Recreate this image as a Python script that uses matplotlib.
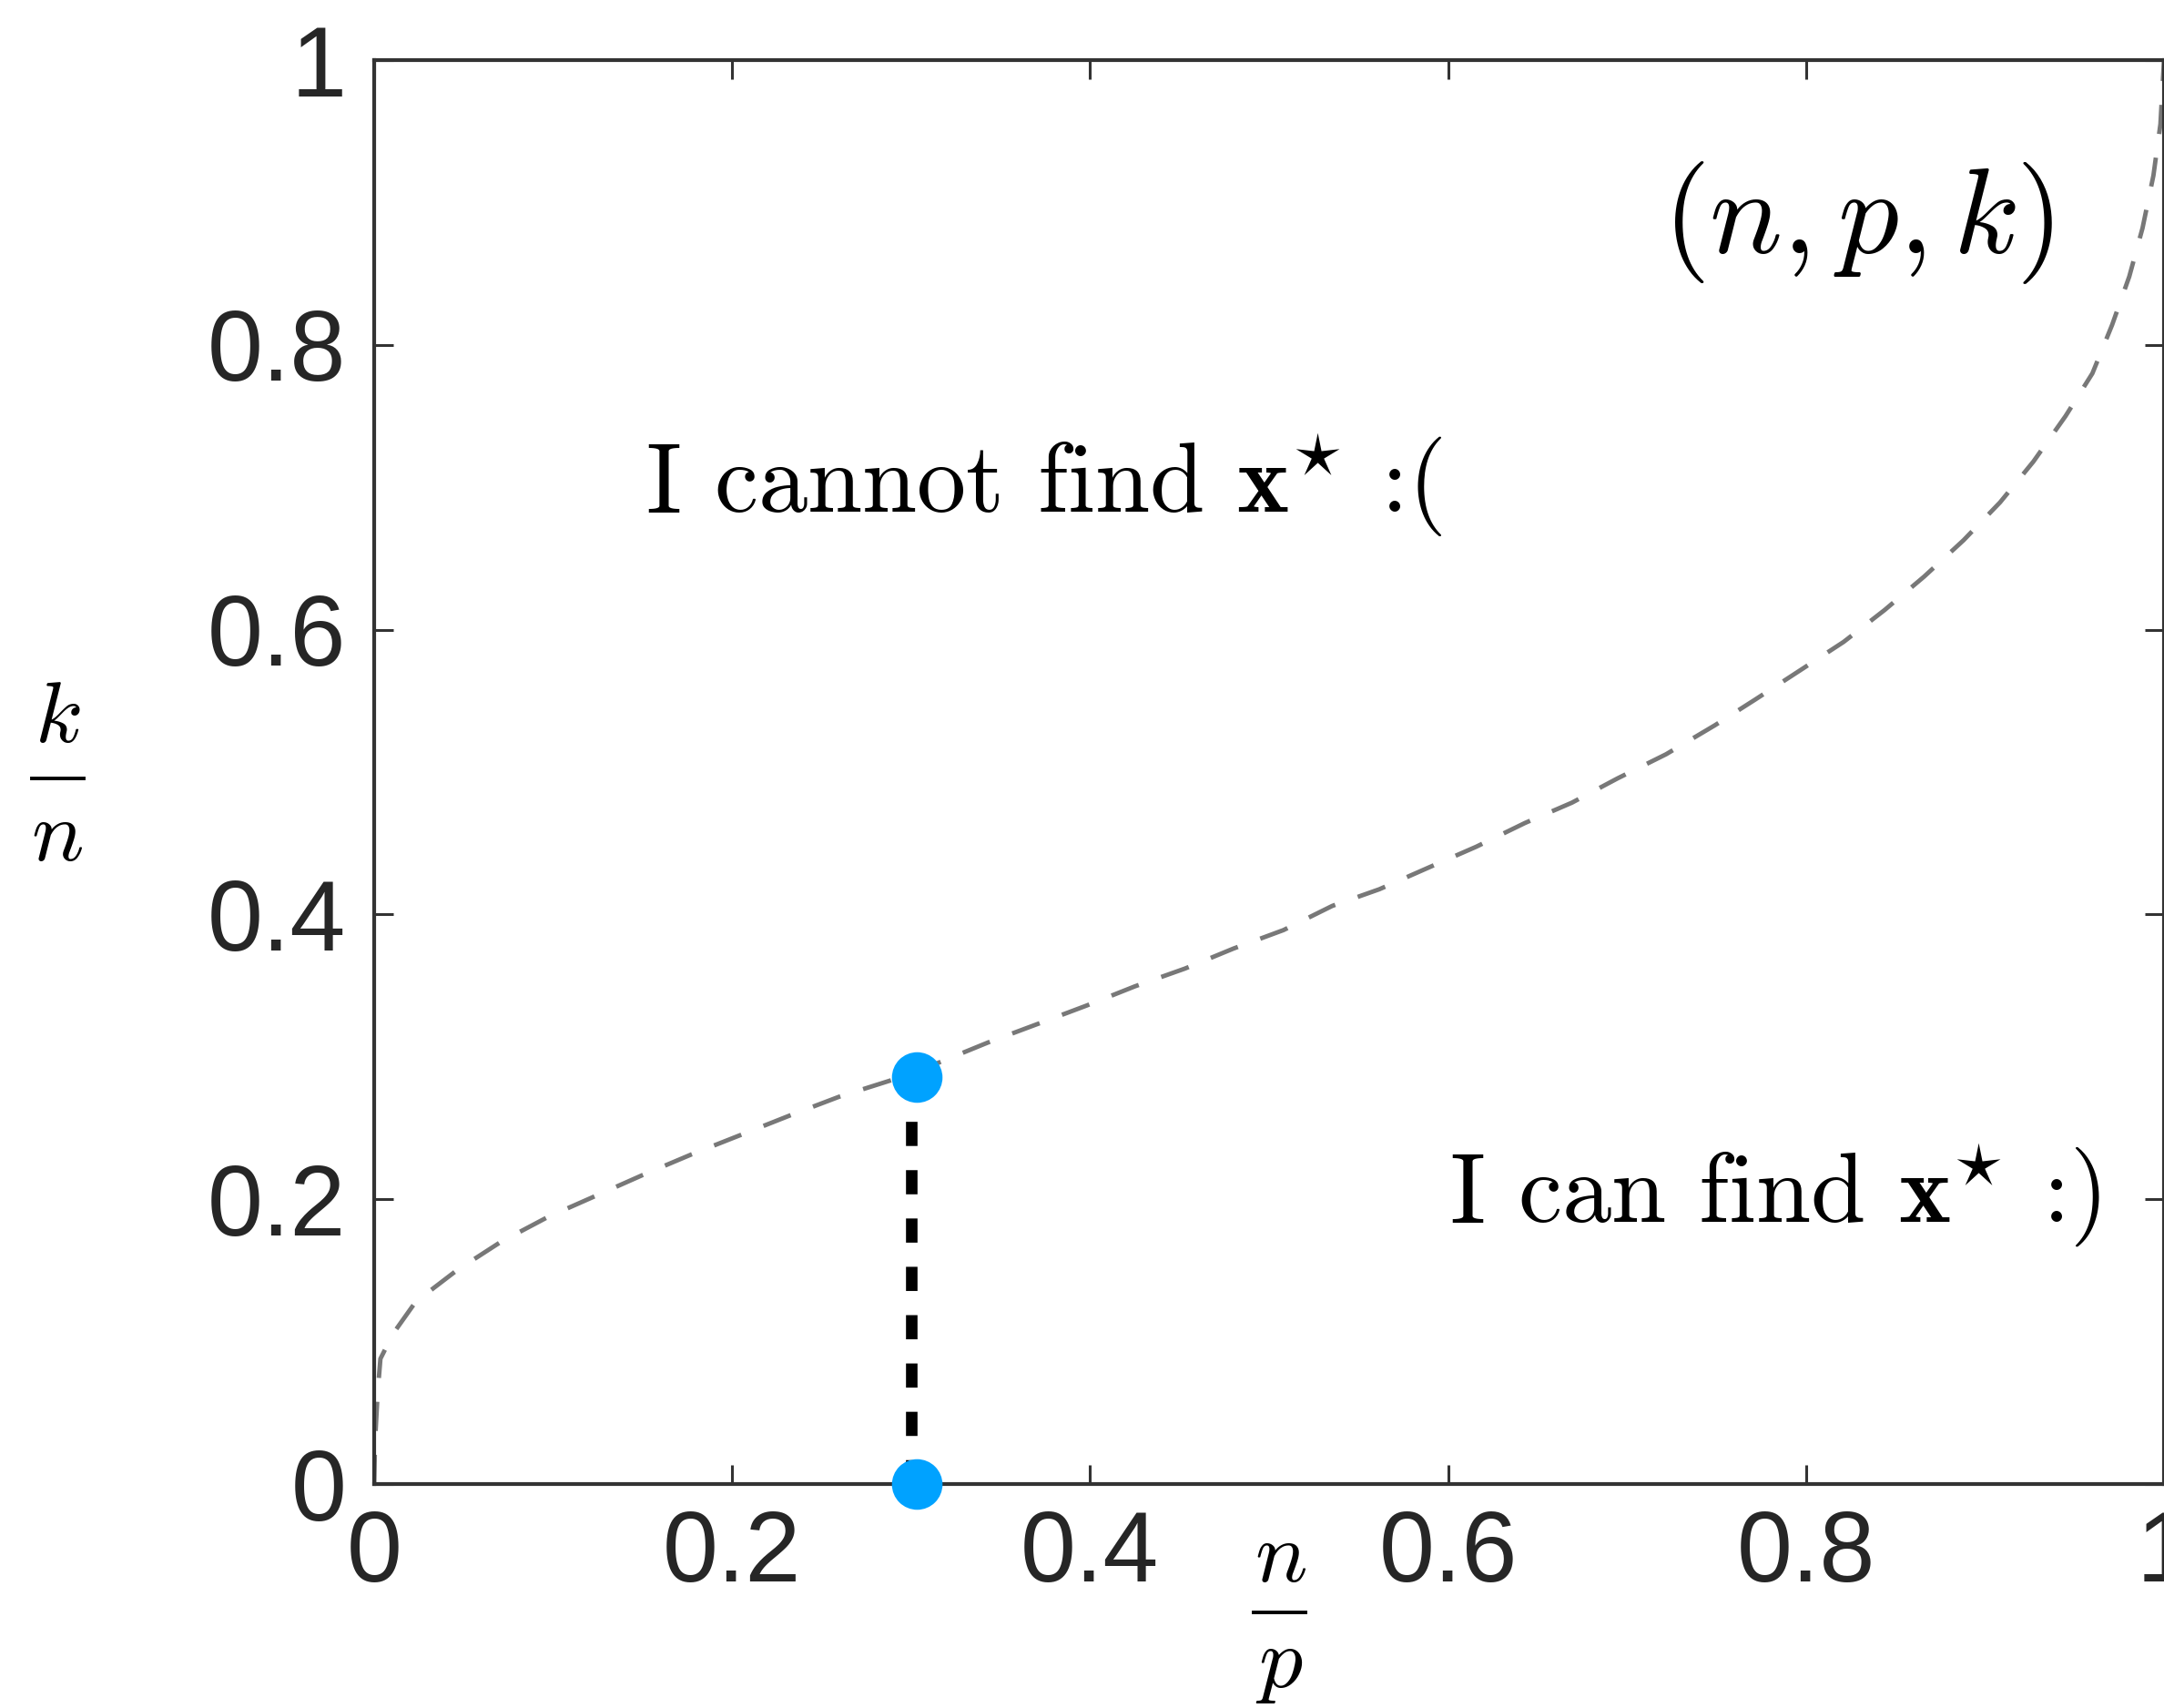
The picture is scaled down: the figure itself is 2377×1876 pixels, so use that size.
import matplotlib
matplotlib.use("Agg")
import matplotlib.pyplot as plt
from matplotlib.lines import Line2D

plt.rcParams['mathtext.fontset'] = 'cm'
plt.rcParams['font.family'] = ['Liberation Sans', 'DejaVu Sans']

# phase transition curve (n/p, k/n)
ratio_np = [0, 0.0005, 0.002, 0.0035, 0.0105, 0.0232, 0.0461, 0.0707, 0.097, 0.124,
            0.150, 0.1775, 0.2055, 0.2326, 0.2598, 0.30, 0.3428, 0.3705, 0.398, 0.425,
            0.453, 0.480, 0.508, 0.5353, 0.5616, 0.5887, 0.6158, 0.6429, 0.6692, 0.6946,
            0.7218, 0.749, 0.7717, 0.7964, 0.821, 0.8439, 0.866, 0.888, 0.9084, 0.927,
            0.945, 0.960, 0.971, 0.9806, 0.988, 0.9941, 0.998, 1.0]
ratio_kn = [0, 0.03, 0.065, 0.088, 0.1055, 0.128, 0.150, 0.170, 0.1875, 0.2025,
            0.217, 0.2316, 0.2455, 0.259, 0.272, 0.288, 0.310, 0.323, 0.336, 0.3495,
            0.362, 0.376, 0.389, 0.406, 0.4177, 0.4327, 0.4476, 0.4642, 0.4785, 0.4955,
            0.5125, 0.5328, 0.551, 0.5712, 0.5914, 0.6138, 0.6373, 0.6628, 0.6894, 0.718,
            0.750, 0.780, 0.814, 0.848, 0.882, 0.919, 0.955, 1.0]

# marked point and its projection on the x axis
line_x = 0.300
dot_x = 0.303
point_y = 0.286

ticks = [0, 0.2, 0.4, 0.6, 0.8, 1]
tick_labels = ['0', '0.2', '0.4', '0.6', '0.8', '1']

W, H = 2377, 1876
fig = plt.figure(figsize=(W / 100, H / 100), dpi=100)
ax = fig.add_axes([411 / W, 246 / H, 1966 / W, 1564 / H])

ax.plot(ratio_np, ratio_kn, color='#787878', lw=3.5,
        linestyle=(0, (6.6, 5.4)), dash_capstyle='butt', zorder=2)
ax.plot([line_x, line_x], [point_y, 0], color='black', lw=9.1,
        linestyle=(0.35, (2.1, 2.1)), dash_capstyle='butt', zorder=3)
ax.plot([dot_x, dot_x], [point_y, 0], 'o', color='#00a2ff',
        markersize=40, markeredgewidth=0, zorder=4, clip_on=False)

ax.set_xlim(0, 1)
ax.set_ylim(0, 1)
ax.set_xticks(ticks)
ax.set_xticklabels(tick_labels)
ax.set_yticks(ticks)
ax.set_yticklabels(tick_labels)
ax.tick_params(direction='in', length=15, width=2.2, color='#333333',
               labelsize=79, labelcolor='#262626', top=True, right=True)
ax.tick_params(axis='y', pad=22)
ax.tick_params(axis='x', pad=20)
for s in ax.spines.values():
    s.set_color('#333333')
    s.set_linewidth(3.0)

ax.text(0.1516, 0.682, r'I cannot find $\mathbf{x}^{\star}$ :(',
        family='cmr10', fontsize=78, ha='left', va='baseline')
ax.text(0.6007, 0.184, r'I can find $\mathbf{x}^{\star}$ :)',
        family='cmr10', fontsize=78, ha='left', va='baseline')
ax.text(0.938, 0.8645, r'$(n,p,k)$', fontsize=96, ha='right', va='baseline')

# fraction labels k/n (y) and n/p (x)
fig.text(63 / W, 1 - 815 / H, r'$k$', fontsize=69, ha='center', va='baseline')
fig.add_artist(Line2D([35 / W, 92 / W], [1 - 855 / H, 1 - 855 / H], color='black', lw=2.8))
fig.text(63 / W, 1 - 945 / H, r'$n$', fontsize=69, ha='center', va='baseline')

fig.text(1407 / W, 1 - 1737 / H, r'$n$', fontsize=69, ha='center', va='baseline')
fig.add_artist(Line2D([1377 / W, 1434 / W], [1 - 1771 / H, 1 - 1771 / H], color='black', lw=2.8))
fig.text(1405 / W, 1 - 1853 / H, r'$p$', fontsize=69, ha='center', va='baseline')

fig.savefig('out.png', dpi=100, facecolor='white')
